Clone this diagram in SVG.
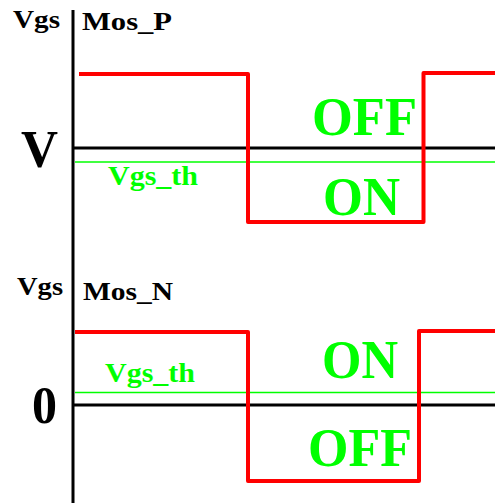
<svg xmlns="http://www.w3.org/2000/svg" width="495" height="503" viewBox="0 0 495 503">
<style>
text{font-family:"Liberation Serif","Times New Roman",serif;font-weight:bold}
.lbl{fill:#000;font-size:26px}
.big{fill:#000;font-size:52px}
.st{fill:#00ff00;font-size:54px}
.th{fill:#00ff00;font-size:27px}
.ax{stroke:#000;stroke-width:3;fill:none}
.wave{stroke:#ff0000;stroke-width:4;fill:none;stroke-linejoin:round}
.thr{stroke:#00ff00;stroke-width:1.5;fill:none}
</style>
<rect width="495" height="503" fill="#fff"/>
<g id="connectors">
<line class="ax" x1="73" y1="10" x2="73" y2="503"/>
<line class="ax" x1="73" y1="148" x2="495" y2="148"/>
<line class="thr" x1="75" y1="162" x2="495" y2="162"/>
<polyline class="wave" points="79,74 248,74 248,222 423.5,222 423.5,73 495,73"/>
<line class="ax" x1="73" y1="405" x2="495" y2="405"/>
<line class="thr" x1="75" y1="392.5" x2="495" y2="392.5"/>
<polyline class="wave" points="75,332 248,332 248,481 419,481 419,331 495,331"/>
</g>
<g id="top">
<text class="lbl" x="13" y="28" textLength="47" lengthAdjust="spacingAndGlyphs">Vgs</text>
<text class="lbl" x="82" y="30" textLength="90" lengthAdjust="spacingAndGlyphs">Mos_P</text>
<text class="big" x="21" y="167" textLength="37" lengthAdjust="spacingAndGlyphs">V</text>
<text class="th" x="108" y="185" textLength="90" lengthAdjust="spacingAndGlyphs">Vgs_th</text>
<text class="st" x="312" y="135" textLength="105" lengthAdjust="spacingAndGlyphs">OFF</text>
<text class="st" x="323" y="215" textLength="77" lengthAdjust="spacingAndGlyphs">ON</text>
</g>
<g id="bottom">
<text class="lbl" x="17" y="295" textLength="46" lengthAdjust="spacingAndGlyphs">Vgs</text>
<text class="lbl" x="83" y="300" textLength="90" lengthAdjust="spacingAndGlyphs">Mos_N</text>
<text class="big" x="32" y="423" textLength="25" lengthAdjust="spacingAndGlyphs">0</text>
<text class="th" x="105" y="382" textLength="90" lengthAdjust="spacingAndGlyphs">Vgs_th</text>
<text class="st" x="322" y="378" textLength="76" lengthAdjust="spacingAndGlyphs">ON</text>
<text class="st" x="308" y="466" textLength="104" lengthAdjust="spacingAndGlyphs">OFF</text>
</g>
</svg>
